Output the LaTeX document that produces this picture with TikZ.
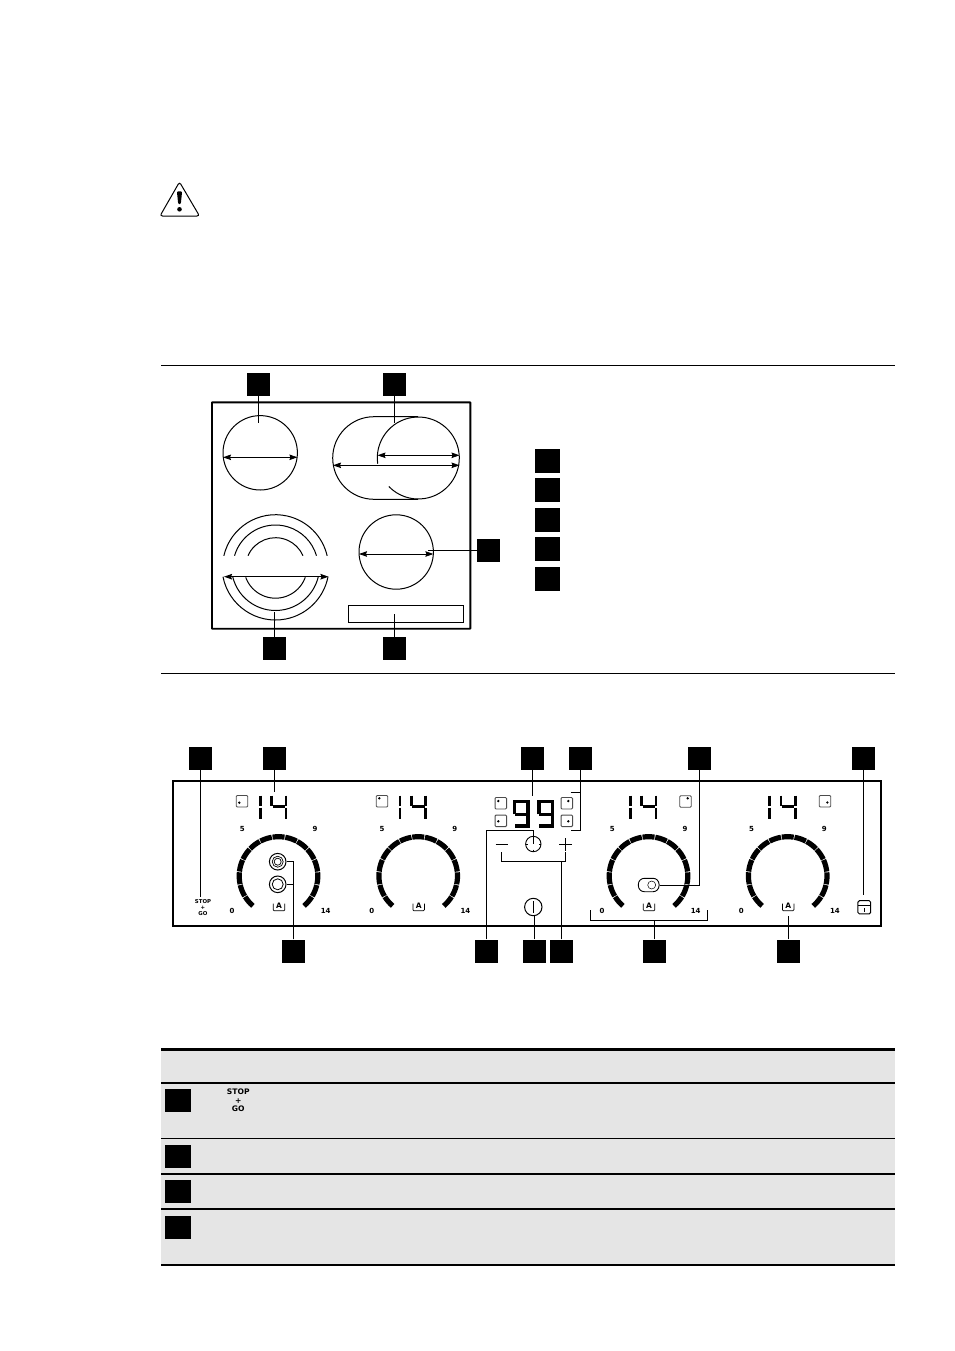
\documentclass[tikz,border=0pt]{standalone}
\usepackage{fontspec}
\setmainfont{DejaVu Sans}
\usetikzlibrary{arrows.meta, positioning}

\begin{document}
\begin{tikzpicture}[
    x=1pt, y=-1pt,
    node distance=5pt and 5pt,
    tag/.style={rectangle, fill=black, inner sep=0pt, minimum width=23pt, minimum height=23pt},
    rowtag/.style={tag, minimum width=26pt},
    legtag/.style={tag, minimum width=25pt, minimum height=24pt},
    leader/.style={line width=1pt},
    zoneline/.style={line width=1pt},
    dimarrow/.style={{Stealth[length=8pt,width=5.5pt,inset=1pt]}-{Stealth[length=8pt,width=5.5pt,inset=1pt]}, line width=0.8pt},
    segment/.style={line width=5.2pt},
    digitseg/.style={line width=2.6pt},
    bigseg/.style={line width=3.4pt},
    zonebox/.style={rectangle, draw=black!70, rounded corners=1pt, line width=0.9pt, minimum size=11.5pt, inner sep=0pt},
    keydot/.style={fill=black},
    scale text/.style={font=\bfseries\fontsize{7}{7}\selectfont, inner sep=0pt},
    stopgo/.style={font=\bfseries\fontsize{5.4}{6}\selectfont, align=center, inner sep=0pt},
    rule/.style={line width=#1}
]
    \useasboundingbox (0,0) rectangle (954,1351);

    % Warning sign
    \draw[line width=1pt, rounded corners=2.5pt] (179.5,182) -- (199.5,216) -- (160,216) -- cycle;
    \fill[rounded corners=1pt] (176.9,191.5) -- (182.1,191.5) -- (180.8,204) -- (178.2,204) -- cycle;
    \fill (179.5,209.3) circle[radius=2.3pt];

    % Hob rules
    \draw[rule=0.9pt] (161,365) -- (894.5,365);
    \draw[rule=0.9pt] (161,673) -- (894.5,673);

    % Hob outline
    \draw[line width=1.9pt, rounded corners=0.5pt] (212,402.3) rectangle (470.3,628.7);

    % Hob tags
    \node[tag] (tagsingle) at (258,384.5) {};
    \node[tag] (tagdouble) at (394,384.5) {};
    \node[tag] (tagrear) at (488.5,550.5) {};
    \node[tag] (tagtriple) at (274,648.5) {};
    \node[tag] (tagctrl) at (394.5,648.5) {};

    % Legend tags
    \node[legtag] (lega) at (547.5,461) {};
    \node[legtag, below=5pt of lega] (legb) {};
    \node[legtag, below=5pt of legb] (legc) {};
    \node[legtag, below=5pt of legc] (legd) {};
    \node[legtag, below=5pt of legd] (lege) {};

    % Single zones
    \node[circle, draw, zoneline, inner sep=0pt, minimum size=74.4pt] (zonesingle) at (260.2,452.8) {};
    \node[circle, draw, zoneline, inner sep=0pt, minimum size=74.4pt] (zonerear) at (396.2,552) {};
    \coordinate (zsa) at (223,457.3);
    \coordinate (zsb) at (297.4,457.3);
    \coordinate (zra) at (359,554);
    \coordinate (zrb) at (433.4,554);
    \draw[dimarrow] (zsa) -- (zsb);
    \draw[dimarrow] (zra) -- (zrb);

    % Double zone
    \draw[zoneline] (418,416.7) -- (374,416.7) arc[start angle=90, end angle=270, radius=41.3pt] -- (418,499.3);
    \draw[zoneline] (418.3,458) ++(188:41pt) arc[start angle=188, delta angle=-324, radius=41pt];
    \coordinate (zda) at (377.5,455.3);
    \coordinate (zdb) at (459.5,455.3);
    \coordinate (zdc) at (333,465.3);
    \coordinate (zdd) at (459.5,465.3);
    \draw[dimarrow] (zda) -- (zdb);
    \draw[dimarrow] (zdc) -- (zdd);

    % Triple zone
    \foreach \r/\su in {53/13, 42.7/16.3, 30/23.6} {
        \draw[zoneline] (275.5,567.7) ++(180-\su:\r pt) arc[start angle=180-\su, end angle=\su, radius=\r pt];
    }
    \draw[zoneline] (275.5,566.5) ++(191:53.5pt) arc[start angle=191, end angle=349, radius=53.5pt];
    \draw[zoneline] (275.5,566.5) ++(193:44pt) arc[start angle=193, end angle=347, radius=44pt];
    \draw[zoneline] (275.5,566.5) ++(200:31.7pt) arc[start angle=200, end angle=340, radius=31.7pt];
    \coordinate (zta) at (224,576.7);
    \coordinate (ztb) at (328.5,576.7);
    \draw[dimarrow, line width=1.4pt] (zta) -- (ztb);

    % Control area of the hob
    \node[rectangle, draw, zoneline, inner sep=0pt, minimum width=115pt, minimum height=17pt] (ctrlarea) at (406,613.5) {};

    % Hob leaders
    \coordinate (endsingle) at (258,423);
    \coordinate (enddouble) at (394,423);
    \coordinate (endrear) at (428.3,550.5);
    \coordinate (endtriple) at (274,612);
    \coordinate (endctrl) at (394.5,613.5);
    \draw[leader] (tagsingle) -- (endsingle);
    \draw[leader] (tagdouble) -- (enddouble);
    \draw[line width=1.5pt] (tagrear) -- (endrear);
    \draw[leader] (tagtriple) -- (endtriple);
    \draw[leader] (tagctrl) -- (endctrl);

    % Panel outline
    \draw[line width=1.8pt] (172.7,780.7) rectangle (881.3,926);

    % Dials
    \foreach \cx/\dn in {278.5/a, 418.2/b, 648.5/c, 787.7/d} {
        \foreach \a in {0,...,14} {
            \draw[segment] (\cx,876) ++({230-\a*18.67-0.6}:39.3pt) arc[start angle={230-\a*18.67-0.6}, delta angle=-17.5, radius=39.3pt];
        }
        \node[scale text] (five\dn) at (\cx-36.2,829) {5};
        \node[scale text] (nine\dn) at (\cx+36.5,829) {9};
        \node[scale text] (zero\dn) at (\cx-46.5,911.3) {0};
        \node[scale text] (top\dn) at (\cx+47.2,911.3) {14};
        \node[scale text, font=\bfseries\fontsize{7.5}{7.5}\selectfont] (auto\dn) at (\cx+0.5,905.8) {A};
        \draw[line width=0.7pt, rounded corners=1pt] (\cx-5.2,903.5) -- (\cx-5.2,910.8) -- (\cx+6.2,910.8) -- (\cx+6.2,903.5);
        % Display
        \draw[digitseg] (\cx-18.2,795.5) -- (\cx-18.2,806);
        \draw[digitseg] (\cx-18.2,807.5) -- (\cx-18.2,819);
        \draw[digitseg] (\cx-6.8,795.5) -- (\cx-6.8,806);
        \draw[digitseg] (\cx-5.8,806.7) -- (\cx+6.5,806.7);
        \draw[digitseg] (\cx+7.5,795.5) -- (\cx+7.5,806);
        \draw[digitseg] (\cx+7.5,807.5) -- (\cx+7.5,819);
    }

    % Zone keys
    \node[zonebox] (keya) at (242,801.2) {};
    \fill[keydot] (239.3,802.7) circle[radius=1.3pt];
    \node[zonebox] (keyb) at (382,801.2) {};
    \fill[keydot] (379.3,798.3) circle[radius=1.3pt];
    \node[zonebox] (keyc) at (685.5,801.5) {};
    \fill[keydot] (687.7,798.3) circle[radius=1.3pt];
    \node[zonebox] (keyd) at (825,801.2) {};
    \fill[keydot] (827.3,802.5) circle[radius=1.3pt];
    \node[zonebox] (timea) at (500.8,803.2) {};
    \fill[keydot] (498.3,801) circle[radius=1.3pt];
    \node[zonebox] (timeb) at (500.8,820.8) {};
    \fill[keydot] (498.3,821.3) circle[radius=1.3pt];
    \node[zonebox] (timec) at (566.8,803.2) {};
    \fill[keydot] (568.3,801) circle[radius=1.3pt];
    \node[zonebox] (timed) at (566.8,820.8) {};
    \fill[keydot] (568.3,821.3) circle[radius=1.3pt];

    % Timer display
    \foreach \ox in {514.5, 539} {
        \draw[bigseg] (\ox,814.3) -- (\ox,801.5) -- (\ox+13.5,801.5) -- (\ox+13.5,825.8) -- (\ox,825.8);
        \draw[bigseg] (\ox,814.3) -- (\ox+13.5,814.3);
    }

    % Timer keys
    \draw[line width=1pt] (495.7,844) -- (507.7,844);
    \draw[line width=1pt] (559.3,844) -- (571.7,844);
    \draw[line width=1pt] (565.5,838) -- (565.5,850.5);
    \node[circle, draw, line width=0.9pt, inner sep=0pt, minimum size=15.4pt] (clock) at (533.3,844) {};
    \draw[line width=0.6pt] (533.3,836.5) -- (533.3,844);
    \draw[line width=0.6pt] (525.6,844) -- (527.6,844);
    \draw[line width=0.6pt] (539,844) -- (541,844);
    \draw[line width=0.6pt] (533.3,849.7) -- (533.3,851.7);
    \node[circle, draw, line width=1pt, inner sep=0pt, minimum size=17.4pt] (power) at (533.3,907) {};
    \draw[line width=1pt] (533.3,901) -- (533.3,913.3);

    % Rings
    \node[circle, draw, line width=1pt, inner sep=0pt, minimum size=16.6pt] (dualring) at (277.7,861.7) {};
    \node[circle, draw, line width=0.7pt, inner sep=0pt, minimum size=11pt] (dualmid) at (277.7,861.7) {};
    \node[circle, draw, line width=0.7pt, inner sep=0pt, minimum size=7pt] (dualin) at (277.7,861.7) {};
    \node[circle, draw, line width=1pt, inner sep=0pt, minimum size=16.6pt] (triring) at (277.7,884.3) {};
    \node[circle, draw, line width=0.8pt, inner sep=0pt, minimum size=11pt] (triin) at (277.7,884.3) {};

    % Toggle
    \node[rectangle, draw, line width=0.9pt, rounded corners=6pt, inner sep=0pt, minimum width=20.7pt, minimum height=13.4pt] (toggle) at (648.7,885) {};
    \node[circle, draw, line width=0.5pt, inner sep=0pt, minimum size=8pt] (knob) at (651.7,885) {};

    % Stop and go, lock
    \node[stopgo] (stopkey) at (203,907.5) {STOP\\+\\GO};
    \node[rectangle, draw, line width=1pt, rounded corners=1.5pt, inner sep=0pt, minimum width=12.7pt, minimum height=13.3pt] (lock) at (864.3,907.3) {};
    \draw[line width=0.8pt] (858,905) -- (870.7,905);
    \draw[line width=0.8pt] (864.3,908) -- (864.3,912);

    % Panel tags
    \node[tag] (tagstop) at (200.8,758.3) {};
    \node[tag] (tagdisp) at (274.2,758.3) {};
    \node[tag] (tagnine) at (532,758.3) {};
    \node[tag] (tagkeys) at (580,758.3) {};
    \node[tag] (tagtog) at (699.5,758.3) {};
    \node[tag] (taglock) at (863.8,758.3) {};
    \node[tag] (tagring) at (293.8,951) {};
    \node[tag] (tagclk) at (486.3,951) {};
    \node[tag] (tagpow) at (534,951) {};
    \node[tag] (tagpm) at (561,951) {};
    \node[tag] (tagbar) at (654.2,951) {};
    \node[tag] (tagauto) at (788.2,951) {};

    % Panel leaders
    \coordinate (endstop) at (200.8,896.7);
    \coordinate (enddisp) at (274.2,791.7);
    \coordinate (endnine) at (532,795.7);
    \coordinate (endlock) at (863.8,895);
    \coordinate (endpow) at (534,916);
    \coordinate (endauto) at (788.2,916);
    \draw[leader] (tagstop) -- (endstop);
    \draw[leader] (tagdisp) -- (enddisp);
    \draw[leader] (tagnine) -- (endnine);
    \draw[leader] (taglock) -- (endlock);
    \draw[leader] (tagpow) -- (endpow);
    \draw[leader] (tagauto) -- (endauto);
    \draw[leader] (tagkeys) |- (570.7,830);
    \draw[leader] (570.7,792.3) -| (tagkeys);
    \draw[leader] (tagclk) |- (533.3,830) -- (clock);
    \draw[leader] (tagpm) |- (501.3,861.3) -- (501.3,852.3);
    \draw[leader] (tagpm) |- (565,861.3) -- (565,852.3);
    \draw[leader] (tagring) |- (dualring);
    \draw[leader] (tagring) |- (triring);
    \draw[leader] (tagtog) |- (toggle);
    \draw[leader] (tagbar) -- (tagbar |- 0,920.3);
    \draw[leader] (590.7,910) |- (707.7,920.3) -- (707.7,910);

    % Table
    \fill[black!10] (161,1049) rectangle (894.5,1265);
    \draw[rule=2.7pt] (161,1049.3) -- (894.5,1049.3);
    \draw[rule=1.8pt] (161,1082.7) -- (894.5,1082.7);
    \draw[rule=1.2pt] (161,1138.3) -- (894.5,1138.3);
    \draw[rule=1.7pt] (161,1173.7) -- (894.5,1173.7);
    \draw[rule=1.2pt] (161,1209) -- (894.5,1209);
    \draw[rule=2pt] (161,1265) -- (894.5,1265);
    \node[rowtag] (rowa) at (178,1100.5) {};
    \node[rowtag] (rowb) at (178,1156) {};
    \node[rowtag] (rowc) at (178,1191.5) {};
    \node[rowtag] (rowd) at (178,1227) {};
    \node[font=\bfseries\fontsize{7.6}{8.2}\selectfont, align=center, inner sep=0pt] (rowstop) at (238.3,1100.4) {STOP\\+\\GO};
\end{tikzpicture}
\end{document}
